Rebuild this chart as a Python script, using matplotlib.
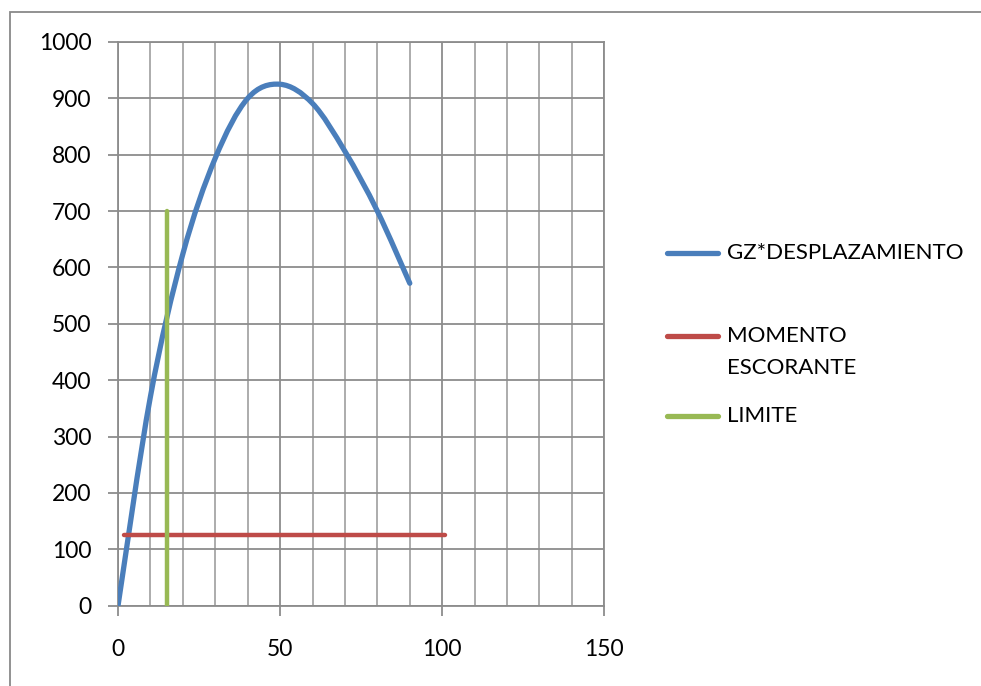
import matplotlib.pyplot as plt
from matplotlib.lines import Line2D
from matplotlib.patches import Rectangle, PathPatch
from matplotlib.path import Path
from matplotlib.ticker import MultipleLocator

plt.rcParams['font.family'] = ['Lato', 'DejaVu Sans']

# heel angle (deg) and righting moment
angulo = [0, 10, 20, 30, 40, 50, 60, 70, 80, 90]
gz_desplazamiento = [0, 371, 624, 794, 900, 925, 891, 806, 700, 572]

# heeling moment
escorante_x = [2, 101]
escorante_y = [125, 125]

# limit angle
limite_x = [15, 15]
limite_y = [0, 700]

series_names = ['GZ*DESPLAZAMIENTO', 'MOMENTO\nESCORANTE', 'LIMITE']
colors = ['#4A7EBB', '#BE4B48', '#98B954']

grid_col = '#8C8C8C'


def smooth_path(xs, ys):
    # cubic bezier through the points (spreadsheet-style smoothed line)
    pts = list(zip(xs, ys))
    n = len(pts)
    verts = [pts[0]]
    codes = [Path.MOVETO]
    for i in range(n - 1):
        p0 = pts[max(i - 1, 0)]
        p1 = pts[i]
        p2 = pts[i + 1]
        p3 = pts[min(i + 2, n - 1)]
        c1 = (p1[0] + (p2[0] - p0[0]) / 6, p1[1] + (p2[1] - p0[1]) / 6)
        c2 = (p2[0] - (p3[0] - p1[0]) / 6, p2[1] - (p3[1] - p1[1]) / 6)
        verts += [c1, c2, p2]
        codes += [Path.CURVE4] * 3
    return Path(verts, codes)


fig = plt.figure(figsize=(9.81, 6.86), dpi=100)
ax = fig.add_axes([0.1203, 0.117, 0.4957, 0.8218])

ax.add_patch(PathPatch(smooth_path(angulo, gz_desplazamiento), fill=False, edgecolor=colors[0],
                       lw=3.8, capstyle='round', joinstyle='round', zorder=3))
ax.plot(escorante_x, escorante_y, color=colors[1], lw=3.2, solid_capstyle='round', zorder=3)
ax.plot(limite_x, limite_y, color=colors[2], lw=3.2, solid_capstyle='round', zorder=4)

ax.set_xlim(0, 150)
ax.set_ylim(0, 1000)
ax.xaxis.set_major_locator(MultipleLocator(50))
ax.xaxis.set_minor_locator(MultipleLocator(10))
ax.yaxis.set_major_locator(MultipleLocator(100))

ax.grid(True, which='major', color=grid_col, lw=1.3)
ax.grid(True, which='minor', axis='x', color='#A6A6A6', lw=1.3)
ax.set_axisbelow(True)
for s in ax.spines.values():
    s.set_color(grid_col)
    s.set_linewidth(1.3)

ax.tick_params(which='major', length=7, width=1.3, color=grid_col, labelsize=16.5)
ax.tick_params(which='minor', length=0)
ax.tick_params(axis='y', pad=12)
ax.tick_params(axis='x', pad=17)

# legend entries on the right
leg_y = [253, 336, 416]
line_gap = 32
for name, col, yp in zip(series_names, colors, leg_y):
    yf = 1 - yp / 686
    fig.add_artist(Line2D([667 / 981, 718 / 981], [yf, yf], color=col, lw=3.8, solid_capstyle='round'))
    for k, part in enumerate(name.split('\n')):
        fig.text(727 / 981, yf - k * line_gap / 686, part, fontsize=16, va='center')

# chart area border
fig.add_artist(Rectangle((9.5 / 981, -0.1), 2, 1.1 - 11.7 / 686, transform=fig.transFigure,
                         fill=False, edgecolor='#898989', lw=1.3))

fig.savefig('out.png', dpi=100)
